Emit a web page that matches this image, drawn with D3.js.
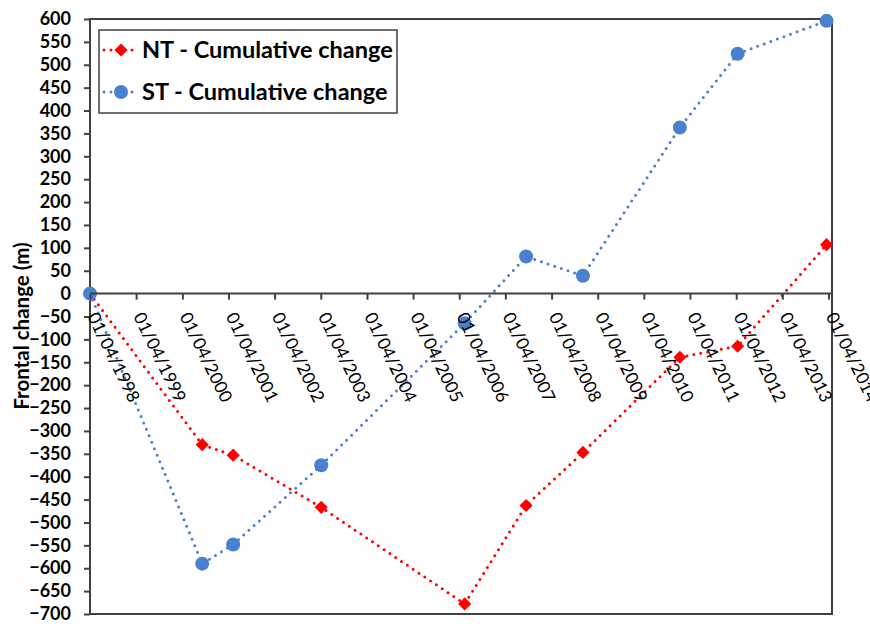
<!DOCTYPE html>
<html>
<head>
<meta charset="utf-8">
<script src="https://cdn.jsdelivr.net/npm/d3@7"></script>
<style>
body { margin: 0; background: #fff; }
text { font-family: Lato, "Open Sans", sans-serif; fill: #000; }
</style>
</head>
<body>
<svg id="chart" width="870" height="626"></svg>
<script>
// DATA
var surveyDates = ["1998-04-01", "2000-09-05", "2001-05-08", "2003-04-05", "2006-05-14",
                   "2007-09-12", "2008-12-05", "2011-01-11", "2012-04-12", "2014-03-17"];
var ntChange = [0, -330, -353, -467, -678, -463, -347, -139, -115, 107];
var stChange = [0, -590, -548, -375, -65, 81, 39, 363, 524, 596];
var tickDates = ["1998-04-01", "1999-04-01", "2000-04-01", "2001-04-01", "2002-04-01", "2003-04-01",
                 "2004-04-01", "2005-04-01", "2006-04-01", "2007-04-01", "2008-04-01", "2009-04-01",
                 "2010-04-01", "2011-04-01", "2012-04-01", "2013-04-01", "2014-04-01"];
var yTicks = d3.range(-700, 601, 50);
var seriesNames = ["NT - Cumulative change", "ST - Cumulative change"];

// SIZING (plot area edges)
var plotL = 90, plotR = 832, plotT = 19, plotB = 614;
var parse = d3.timeParse("%Y-%m-%d");
var fmt = d3.timeFormat("%d/%m/%Y");

var svg = d3.select("#chart");

var x = d3.scaleTime()
	.domain([parse("1998-04-01"), parse("2014-04-29")])
	.range([plotL, plotR]);
var y = d3.scaleLinear()
	.domain([-700, 600])
	.range([plotB, plotT]);

var nt = surveyDates.map((d, i) => ({date: parse(d), v: ntChange[i]}));
var st = surveyDates.map((d, i) => ({date: parse(d), v: stChange[i]}));

// PLOT FRAME
svg.append("rect")
	.attr("x", plotL).attr("y", plotT)
	.attr("width", plotR - plotL).attr("height", plotB - plotT)
	.attr("fill", "none")
	.attr("stroke", "#404040")
	.attr("stroke-width", 2);

// Y AXIS
var yAxis = svg.append("g")
	.attr("transform", "translate(" + plotL + ",0)")
	.call(d3.axisLeft(y).tickValues(yTicks).tickSize(6).tickPadding(13));
yAxis.select(".domain").remove();
yAxis.selectAll("line").attr("stroke", "#404040").attr("stroke-width", 2);
yAxis.selectAll("text")
	.style("font-family", "Lato, sans-serif")
	.style("font-size", "18px")
	.style("font-weight", "bold");

// X AXIS CROSSING AT ZERO
var xAxis = svg.append("g")
	.attr("transform", "translate(0," + y(0) + ")")
	.call(d3.axisBottom(x).tickValues(tickDates.map(parse)).tickSize(6).tickFormat(fmt));
xAxis.select(".domain")
	.attr("d", "M" + plotL + ",0H" + plotR)
	.attr("stroke", "#404040").attr("stroke-width", 2);
xAxis.selectAll("line").attr("stroke", "#404040").attr("stroke-width", 2);

// LINES
var line = d3.line().x(d => x(d.date)).y(d => y(d.v));

svg.append("path").datum(nt)
	.attr("d", line)
	.attr("fill", "none")
	.attr("stroke", "#ff0000")
	.attr("stroke-width", 3)
	.attr("stroke-linecap", "round")
	.attr("stroke-dasharray", "0,7");

svg.append("path").datum(st)
	.attr("d", line)
	.attr("fill", "none")
	.attr("stroke", "#4a80d0")
	.attr("stroke-width", 3)
	.attr("stroke-linecap", "round")
	.attr("stroke-dasharray", "0,7");

// MARKERS
var diamond = d3.symbol().type(d3.symbolDiamond2).size(110);
svg.selectAll(".ntpt").data(nt).enter()
	.append("path")
	.attr("class", "ntpt")
	.attr("d", diamond)
	.attr("transform", d => "translate(" + x(d.date) + "," + y(d.v) + ")")
	.attr("fill", "#ff0000");

svg.selectAll(".stpt").data(st).enter()
	.append("circle")
	.attr("class", "stpt")
	.attr("cx", d => x(d.date))
	.attr("cy", d => y(d.v))
	.attr("r", 7)
	.attr("fill", "#4a80d0");

// ROTATED DATE LABELS (on top of the marks)
xAxis.raise();
xAxis.selectAll("text")
	.attr("x", 0).attr("y", 0).attr("dy", "0.35em")
	.attr("transform", "translate(2,20) rotate(64)")
	.style("text-anchor", "start")
	.style("font-family", "Lato, sans-serif")
	.style("font-size", "17.5px");

// Y TITLE
svg.append("text")
	.attr("transform", "translate(22,326) rotate(-90)")
	.attr("dy", "0.35em")
	.style("text-anchor", "middle")
	.style("font-size", "20.5px")
	.style("font-weight", "bold")
	.text("Frontal change (m)");

// LEGEND
var legend = svg.append("g");
legend.append("rect")
	.attr("x", 99).attr("y", 30)
	.attr("width", 298).attr("height", 83)
	.attr("fill", "#fff")
	.attr("stroke", "#404040")
	.attr("stroke-width", 1.5);

var colors = ["#ff0000", "#4a80d0"];
seriesNames.forEach((name, i) => {
	var cy = 50 + i * 42;
	legend.append("line")
		.attr("x1", 104).attr("x2", 138)
		.attr("y1", cy).attr("y2", cy)
		.attr("stroke", colors[i])
		.attr("stroke-width", 3)
		.attr("stroke-linecap", "round")
		.attr("stroke-dasharray", "0,7");
	if (i == 0) {
		legend.append("path")
			.attr("d", diamond)
			.attr("transform", "translate(121," + cy + ")")
			.attr("fill", colors[i]);
	} else {
		legend.append("circle")
			.attr("cx", 121).attr("cy", cy).attr("r", 7)
			.attr("fill", colors[i]);
	}
	legend.append("text")
		.attr("x", 142).attr("y", cy)
		.attr("dy", "0.35em")
		.style("font-size", "23.5px")
		.style("font-weight", "bold")
		.text(name);
});
</script>
</body>
</html>
